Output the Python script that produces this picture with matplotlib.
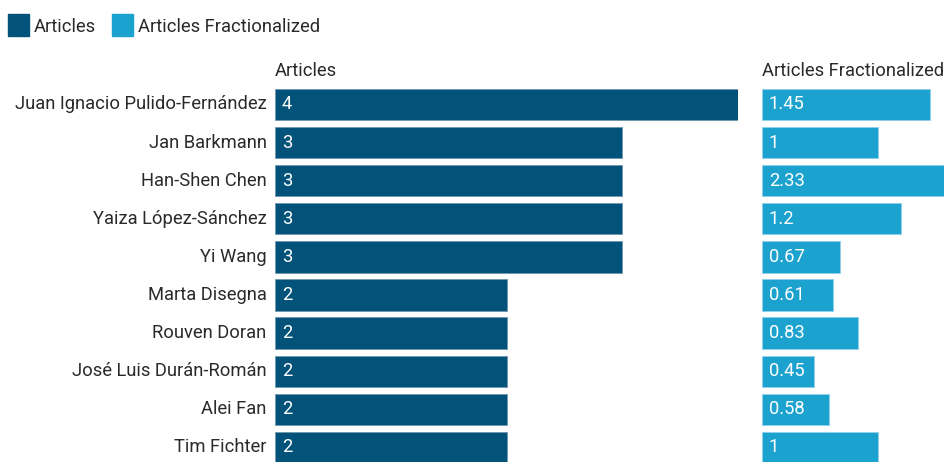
import matplotlib.pyplot as plt
from matplotlib.patches import Rectangle

plt.rcParams['font.family'] = ['Roboto', 'DejaVu Sans']

authors = ['Juan Ignacio Pulido-Fernández', 'Jan Barkmann', 'Han-Shen Chen',
           'Yaiza López-Sánchez', 'Yi Wang', 'Marta Disegna', 'Rouven Doran',
           'José Luis Durán-Román', 'Alei Fan', 'Tim Fichter']
articles = [4, 3, 3, 3, 3, 2, 2, 2, 2, 2]
fractionalized = [1.45, 1, 2.33, 1.2, 0.67, 0.61, 0.83, 0.45, 0.58, 1]
fract_labels = ['1.45', '1', '2.33', '1.2', '0.67', '0.61', '0.83', '0.45', '0.58', '1']

dark = '#03527a'
light = '#1ba2cf'
txt = '#2a2a2a'
fs = 13.2

W, H = 944, 462
fig = plt.figure(figsize=(W / 100, H / 100), dpi=100)

# pixel layout
top_px, pitch, first_c = 85, 38.1, 104.5
ylim = ((H - first_c) / pitch, (top_px - first_c) / pitch)
ax_h = (H - top_px) / H

ax1 = fig.add_axes([275 / W, 0, 463 / W, ax_h])
ax2 = fig.add_axes([762 / W, 0, (W - 762) / W, ax_h])

y = list(range(len(authors)))
ax1.barh(y, articles, height=0.82, color=dark, edgecolor='#6f97b0', linewidth=0.6)
ax2.barh(y, fractionalized, height=0.82, color=light, edgecolor='#8fd0ea', linewidth=0.6)
ax1.set_xlim(0, 4)
ax2.set_xlim(0, (W - 762) / 116)

for ax, vals in ((ax1, [str(v) for v in articles]), (ax2, fract_labels)):
    ax.set_ylim(*ylim)
    ax.axis('off')
    for i, s in enumerate(vals):
        ax.annotate(s, (0, i), xytext=(5, 0), textcoords='offset points',
                    color='white', fontsize=fs, va='center', ha='left')

for i, name in enumerate(authors):
    ax1.annotate(name, (0, i), xytext=(-6, 0), textcoords='offset points',
                 color=txt, fontsize=fs, va='center', ha='right')

fig.text(275 / W, 1 - 71.5 / H, 'Articles', fontsize=fs, color=txt, va='center')
fig.text(762 / W, 1 - 71.5 / H, 'Articles Fractionalized', fontsize=fs, color=txt, va='center')

# legend
for x0, col, lab in ((8, dark, 'Articles'), (112, light, 'Articles Fractionalized')):
    fig.patches.append(Rectangle((x0 / W, 1 - 36 / H), 21 / W, 22 / H,
                                 color=col, transform=fig.transFigure))
    fig.text((x0 + 26) / W, 1 - 26.5 / H, lab, fontsize=fs, color=txt, va='center')

fig.savefig('out.png', dpi=100)
